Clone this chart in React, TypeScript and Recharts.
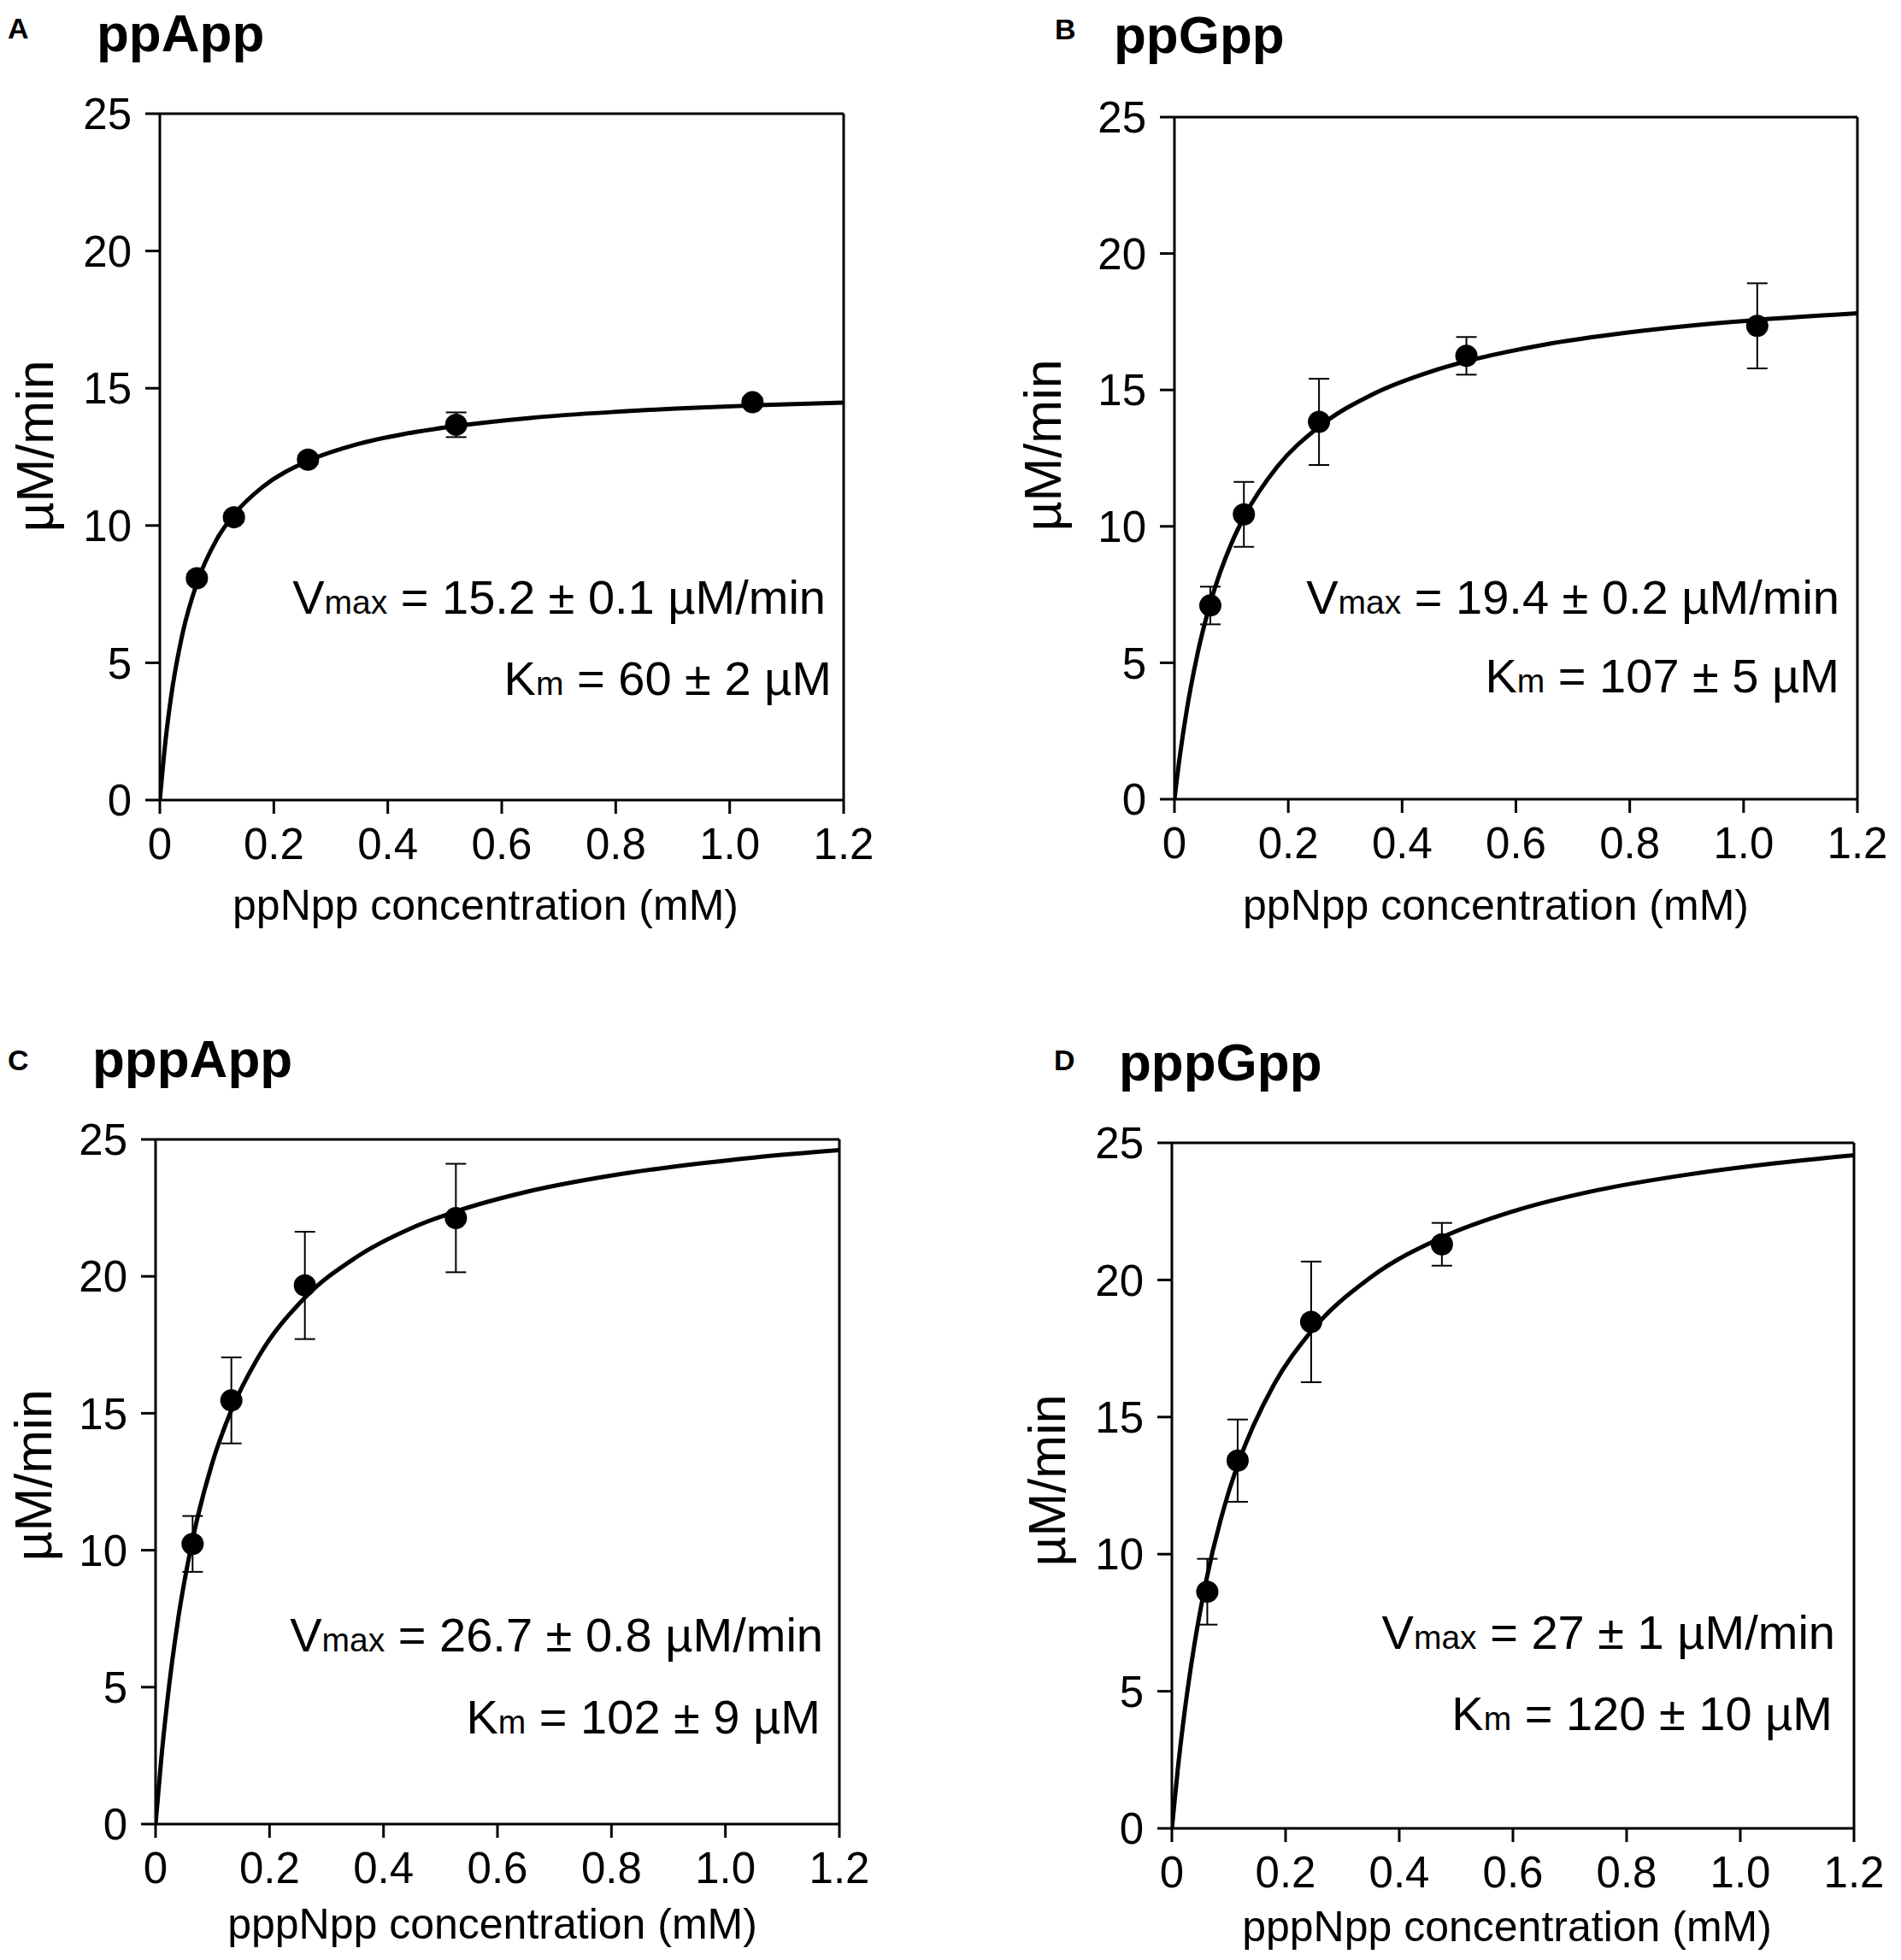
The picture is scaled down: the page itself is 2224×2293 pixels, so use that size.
import React from 'react';
import { ComposedChart, Line, Scatter, XAxis, YAxis, ErrorBar, ReferenceLine } from 'recharts';

const FONT = '"Liberation Sans", Arial, Helvetica, sans-serif';

const xTicks = [0, 0.2, 0.4, 0.6, 0.8, 1.0, 1.2];
const yTicks = [0, 5, 10, 15, 20, 25];

// Panel A – ppApp
const aConc = [0.065, 0.13, 0.26, 0.52, 1.04];
const aRate = [8.08, 10.3, 12.4, 13.67, 14.49];
const aErr = [0.15, 0.15, 0.15, 0.45, 0.15];
const aCurveX = [0, 0.01, 0.02, 0.04, 0.065, 0.1, 0.13, 0.18, 0.26, 0.35, 0.45, 0.53, 0.65, 0.8, 0.95, 1.05, 1.2];
const aCurveY = [0, 2.17, 3.8, 6.08, 7.9, 9.5, 10.4, 11.4, 12.35, 12.98, 13.41, 13.65, 13.92, 14.14, 14.3, 14.38, 14.48];

// Panel B – ppGpp
const bConc = [0.063, 0.122, 0.254, 0.513, 1.024];
const bRate = [7.1, 10.44, 13.83, 16.25, 17.35];
const bErr = [0.69, 1.19, 1.58, 0.69, 1.56];
const bCurveX = [0, 0.01, 0.02, 0.04, 0.064, 0.1, 0.123, 0.18, 0.254, 0.35, 0.45, 0.513, 0.65, 0.8, 0.95, 1.025, 1.2];
const bCurveY = [0, 1.66, 3.06, 5.28, 7.26, 9.37, 10.37, 12.17, 13.65, 14.86, 15.67, 16.05, 16.66, 17.11, 17.44, 17.57, 17.81];

// Panel C – pppApp
const cConc = [0.065, 0.133, 0.262, 0.527];
const cRate = [10.23, 15.47, 19.67, 22.13];
const cErr = [1.02, 1.57, 1.96, 1.98];
const cCurveX = [0, 0.01, 0.02, 0.04, 0.064, 0.1, 0.132, 0.18, 0.261, 0.35, 0.45, 0.527, 0.65, 0.8, 0.95, 1.05, 1.2];
const cCurveY = [0, 2.38, 4.38, 7.54, 10.29, 13.22, 15.06, 17.04, 19.2, 20.67, 21.77, 22.37, 23.08, 23.68, 24.11, 24.34, 24.61];

// Panel D – pppGpp
const dConc = [0.0623, 0.1157, 0.245, 0.475];
const dRate = [8.63, 13.41, 18.47, 21.3];
const dErr = [1.2, 1.5, 2.2, 0.78];
const dCurveX = [0, 0.01, 0.02, 0.04, 0.06, 0.1, 0.115, 0.18, 0.242, 0.35, 0.475, 0.6, 0.75, 0.9, 1.05, 1.2];
const dCurveY = [0, 2.08, 3.86, 6.75, 9.0, 12.27, 13.21, 16.2, 18.05, 20.1, 21.55, 22.5, 23.28, 23.82, 24.23, 24.55];

const toPoints = (xs: number[], ys: number[], es?: number[]) =>
  xs.map((x, i) => ({ x, y: ys[i], err: es ? es[i] : 0 }));

const ML = 180;
const MT = 40;
const MR = 40;
const MB = 110;

type Rect = { left: number; top: number; w: number; h: number };

const Dot = (props: any) => {
  const { cx, cy } = props;
  if (cx == null || cy == null) return null;
  return <circle cx={cx} cy={cy} r={13} fill="#000" />;
};

function Panel({ rect, points, curve }: { rect: Rect; points: any[]; curve: any[] }) {
  const tickStyle = { fontSize: 51, fill: '#000', fontFamily: FONT };
  return (
    <div style={{ position: 'absolute', left: rect.left - ML, top: rect.top - MT }}>
      <ComposedChart
        width={ML + rect.w + MR}
        height={MT + rect.h + MB}
        margin={{ top: MT, right: MR, left: 0, bottom: 0 }}
      >
        <XAxis
          dataKey="x"
          type="number"
          domain={[0, 1.2]}
          ticks={xTicks}
          interval={0}
          allowDataOverflow
          height={MB}
          tickSize={16}
          tickMargin={17}
          tick={tickStyle}
          tickFormatter={(v: number) => (v === 0 ? '0' : v.toFixed(1))}
          axisLine={{ stroke: '#000', strokeWidth: 3 }}
          tickLine={{ stroke: '#000', strokeWidth: 3 }}
        />
        <YAxis
          type="number"
          domain={[0, 25]}
          ticks={yTicks}
          interval={0}
          allowDataOverflow
          width={ML}
          tickSize={17}
          tickMargin={16}
          tick={tickStyle}
          axisLine={{ stroke: '#000', strokeWidth: 3 }}
          tickLine={{ stroke: '#000', strokeWidth: 3 }}
        />
        <ReferenceLine y={25} stroke="#000" strokeWidth={3} />
        <ReferenceLine x={1.2} stroke="#000" strokeWidth={3} />
        <Line
          data={curve}
          dataKey="y"
          type="monotone"
          stroke="#000"
          strokeWidth={5}
          dot={false}
          activeDot={false}
          isAnimationActive={false}
        />
        <Scatter data={points} dataKey="y" fill="#000" shape={<Dot />} isAnimationActive={false}>
          <ErrorBar dataKey="err" direction="y" width={12} stroke="#000" strokeWidth={2} isAnimationActive={false} />
        </Scatter>
      </ComposedChart>
    </div>
  );
}

const rects: Rect[] = [
  { left: 187, top: 133, w: 800, h: 803 },
  { left: 1374, top: 137, w: 799, h: 798 },
  { left: 182, top: 1333, w: 800, h: 801 },
  { left: 1371, top: 1337, w: 798, h: 802 },
];

const Annot = ({ r1, r2, y1, y2, v, k }: { r1: number; r2: number; y1: number; y2: number; v: string; k: string }) => (
  <g fontFamily={FONT} fill="#000">
    <text x={r1} y={y1} textAnchor="end" fontSize={56}>
      V<tspan fontSize={39}>max</tspan>
      {' = ' + v}
    </text>
    <text x={r2} y={y2} textAnchor="end" fontSize={56}>
      K<tspan fontSize={39}>m</tspan>
      {' = ' + k}
    </text>
  </g>
);

export default function App() {
  return (
    <div style={{ position: 'absolute', left: 0, top: 0, width: 2224, height: 2293, background: '#fff', overflow: 'hidden' }}>
      <Panel rect={rects[0]} points={toPoints(aConc, aRate, aErr)} curve={toPoints(aCurveX, aCurveY)} />
      <Panel rect={rects[1]} points={toPoints(bConc, bRate, bErr)} curve={toPoints(bCurveX, bCurveY)} />
      <Panel rect={rects[2]} points={toPoints(cConc, cRate, cErr)} curve={toPoints(cCurveX, cCurveY)} />
      <Panel rect={rects[3]} points={toPoints(dConc, dRate, dErr)} curve={toPoints(dCurveX, dCurveY)} />
      <svg width={2224} height={2293} style={{ position: 'absolute', left: 0, top: 0, pointerEvents: 'none' }}>
        <g fontFamily={FONT} fill="#000" fontWeight="bold">
          <text x={9} y={45} fontSize={34}>A</text>
          <text x={113} y={60} fontSize={62}>ppApp</text>
          <text x={1234} y={46} fontSize={34}>B</text>
          <text x={1303} y={62} fontSize={62}>ppGpp</text>
          <text x={9} y={1252} fontSize={34}>C</text>
          <text x={108} y={1260} fontSize={62}>pppApp</text>
          <text x={1233} y={1252} fontSize={34}>D</text>
          <text x={1309} y={1264} fontSize={62}>pppGpp</text>
        </g>
        <g fontFamily={FONT} fill="#000">
          <text x={568} y={1076} fontSize={50} textAnchor="middle">ppNpp concentration (mM)</text>
          <text x={1750} y={1076} fontSize={50} textAnchor="middle">ppNpp concentration (mM)</text>
          <text x={576} y={2268} fontSize={50} textAnchor="middle">pppNpp concentration (mM)</text>
          <text x={1763} y={2271} fontSize={50} textAnchor="middle">pppNpp concentration (mM)</text>
          <text transform="translate(62,522) rotate(-90)" fontSize={61} textAnchor="middle">µM/min</text>
          <text transform="translate(1241,521) rotate(-90)" fontSize={61} textAnchor="middle">µM/min</text>
          <text transform="translate(60,1726) rotate(-90)" fontSize={61} textAnchor="middle">µM/min</text>
          <text transform="translate(1246,1732) rotate(-90)" fontSize={61} textAnchor="middle">µM/min</text>
        </g>
        <Annot r1={966} r2={973} y1={718} y2={813} v="15.2 ± 0.1 µM/min" k="60 ± 2 µM" />
        <Annot r1={2152} r2={2152} y1={718} y2={810} v="19.4 ± 0.2 µM/min" k="107 ± 5 µM" />
        <Annot r1={963} r2={960} y1={1932} y2={2028} v="26.7 ± 0.8 µM/min" k="102 ± 9 µM" />
        <Annot r1={2147} r2={2144} y1={1929} y2={2024} v="27 ± 1 µM/min" k="120 ± 10 µM" />
      </svg>
    </div>
  );
}
